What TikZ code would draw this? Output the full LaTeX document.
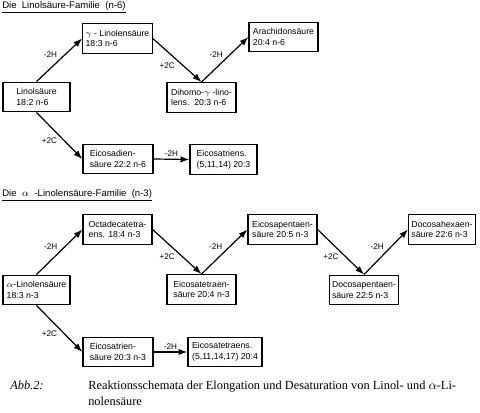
\documentclass[tikz,border=0pt]{standalone}
\usepackage{fontspec}
\setsansfont{Liberation Sans}
\newfontfamily\captfont{Liberation Serif}
\usetikzlibrary{arrows.meta,positioning}
\newcommand{\famtitle}[1]{\underline{#1}}

\begin{document}
\begin{tikzpicture}[
  x=0.025cm,y=-0.025cm,
  font=\sffamily\fontsize{6.2}{7.6}\selectfont,
  >=Latex,
  flow/.style={-{Latex[length=2.2mm,width=1.6mm]}, line width=.85pt},
  card/.style={draw, line width=.95pt, align=left, minimum width=#1, inner xsep=2pt, inner ysep=2pt, minimum height=.74cm},
  card/.default=1.72cm,
  tag/.style={font=\sffamily\fontsize{5.8}{7}\selectfont, inner sep=1.2pt},
  head/.style={font=\sffamily\fontsize{6.8}{8}\selectfont, inner sep=0pt, anchor=west},
  capt/.style={font=\captfont\fontsize{8.8}{10.8}\selectfont, inner sep=0pt, anchor=north west, align=left},
]
\useasboundingbox (0,0) rectangle (480,413);

% Linolsaeure-Familie (n-6)
\node[head] (t6) at (2,7) {\famtitle{Die\ \ Linolsäure-Familie\ \ (n-6)}};

\node[card=1.675cm] (lin) at (36.5,97) {Linolsäure\\18:2 n-6};
\node[card] (gla) at (117.5,38.5) {$\gamma$ - Linolensäure\\18:3 n-6};
\node[card] (dgla) at (201.5,97.5) {Dihomo-$\gamma$ -lino-\\lens.\ \ 20:3 n-6};
\node[card] (ara) at (283.5,37) {Arachidonsäure\\20:4 n-6};
\node[card=1.75cm] (eda) at (118,159) {Eicosadien-\\säure 22:2 n-6};
\node[card=1.675cm] (etr) at (223.5,159.5) {Eicosatriens.\\(5,11,14) 20:3};

\draw[flow] (lin.north) -- node[tag, above left] {-2H} (gla.west);
\draw[flow] (gla.east) -- node[tag, below left] {+2C} (dgla.north);
\draw[flow] (dgla.north) -- node[tag, above left] {-2H} (ara.west);
\draw[flow] (lin.south) -- node[tag, below left] {+2C} (eda.west);
\draw[flow] (eda.east) -- node[tag, above] {-2H} (etr.west);

% alpha-Linolensaeure-Familie (n-3)
\node[head] (t3) at (2,195) {\famtitle{Die\ \ $\alpha$\ \ -Linolensäure-Familie\ \ (n-3)}};

\node[card=1.675cm] (ala) at (36.5,290) {$\alpha$-Linolensäure\\18:3 n-3};
\node[card] (sda) at (117.5,229.5) {Octadecatetra-\\ens. 18:4 n-3};
\node[card] (eta) at (201.5,289.5) {Eicosatetraen-\\säure 20:4 n-3};
\node[card] (epa) at (282.5,229.5) {Eicosapentaen-\\säure 20:5 n-3};
\node[card=1.65cm] (dpa) at (364,290) {Docosapentaen-\\säure 22:5 n-3};
\node[card=1.5cm] (dha) at (442,229.5) {Docosahexaen-\\säure 22:6 n-3};
\node[card=1.75cm] (etrn) at (118,352) {Eicosatrien-\\säure 20:3 n-3};
\node[card=1.85cm] (etet) at (225,352) {Eicosatetraens.\\(5,11,14,17) 20:4};

\draw[flow] (ala.north) -- node[tag, above left] {-2H} (sda.west);
\draw[flow] (sda.east) -- node[tag, below left] {+2C} (eta.north);
\draw[flow] (eta.north) -- node[tag, above left] {-2H} (epa.west);
\draw[flow] (epa.east) -- node[tag, below left] {+2C} (dpa.north);
\draw[flow] (dpa.north) -- node[tag, above left] {-2H} (dha.west);
\draw[flow] (ala.south) -- node[tag, below left] {+2C} (etrn.west);
\draw[flow] (etrn.east) -- node[tag, above] {-2H} (etet.west);

% Bildunterschrift
\node[capt, font=\captfont\itshape\fontsize{8.8}{10.8}\selectfont] (abb) at (10,381) {Abb.2:};
\node[capt] (txt) at (88,381) {Reaktionsschemata der Elongation und Desaturation von Linol- und $\alpha$-Li-\\nolensäure};
\end{tikzpicture}
\end{document}
